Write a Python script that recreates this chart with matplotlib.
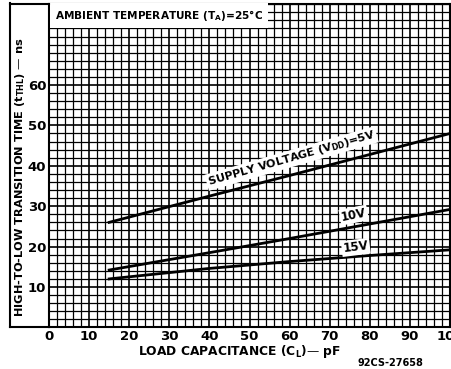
import numpy as np
import matplotlib.pyplot as plt
from matplotlib.lines import Line2D

# 数据：负载电容 (pF) 与下降时间 (ns)
load_cap = [15, 40, 60, 80, 100]
t_thl_5v = [26.0, 32.5, 37.6, 42.8, 48.0]
t_thl_10v = [14.2, 18.5, 22.0, 25.6, 29.2]
t_thl_15v = [12.0, 14.6, 16.3, 17.8, 19.2]

x_ticks = [0, 10, 20, 30, 40, 50, 60, 70, 80, 90, 100]
y_ticks = [10, 20, 30, 40, 50, 60]

plt.rcParams['font.family'] = ['DejaVu Sans']
plt.rcParams['font.weight'] = 'bold'
plt.rcParams['mathtext.default'] = 'bf'

fig = plt.figure(figsize=(4.51, 3.69), dpi=100)
ax = fig.add_axes([49 / 451, 1 - 327.4 / 369, 401 / 451, (327.4 - 4.2) / 369])

# 网格
ax.set_xlim(0, 100)
ax.set_ylim(0, 80)
ax.set_xticks(x_ticks)
ax.set_yticks(y_ticks)
ax.set_xticks(np.arange(0, 101, 2), minor=True)
ax.set_yticks(np.arange(0, 81, 2), minor=True)
ax.grid(True, which='major', color='black', lw=1.2)
ax.grid(True, which='minor', color='black', lw=0.9)
ax.tick_params(which='both', length=0, labelsize=9.5, pad=2)
for s in ax.spines.values():
    s.set_linewidth(1.5)

# 曲线
ax.plot(load_cap, t_thl_5v, color='black', lw=2.0, zorder=3)
ax.plot(load_cap, t_thl_10v, color='black', lw=2.0, zorder=3)
ax.plot(load_cap, t_thl_15v, color='black', lw=2.0, zorder=3)

box = dict(facecolor='white', edgecolor='none', pad=1.0)
ax.text(60.5, 41.8, 'SUPPLY VOLTAGE (V$_{DD}$)=5V', rotation=16,
        ha='center', va='center', fontsize=8, bbox=box, zorder=4)
ax.text(76, 27.8, '10V', rotation=11, ha='center', va='center',
        fontsize=8.5, bbox=box, zorder=4)
ax.text(76.5, 19.8, '15V', rotation=7, ha='center', va='center',
        fontsize=8.5, bbox=box, zorder=4)
ax.text(1.5, 79.0, 'AMBIENT TEMPERATURE (T$_{A}$)=25°C', ha='left', va='top',
        fontsize=7.6, zorder=4,
        bbox=dict(facecolor='white', edgecolor='none', pad=3.5))

# 外框
fig.add_artist(Line2D([10 / 451, 10 / 451], [1 - 327.4 / 369, 1 - 3 / 369],
                      color='black', lw=1.5, transform=fig.transFigure))
fig.add_artist(Line2D([10 / 451, 49 / 451], [1 - 327.4 / 369, 1 - 327.4 / 369],
                      color='black', lw=1.5, transform=fig.transFigure))
fig.add_artist(Line2D([10 / 451, 49 / 451], [1 - 3.6 / 369, 1 - 3.6 / 369],
                      color='black', lw=1.5, transform=fig.transFigure))

fig.text(20 / 451, 1 - 177 / 369, 'HIGH-TO-LOW TRANSITION TIME (t$_{THL}$) — ns',
         rotation=90, ha='center', va='center', fontsize=8.2)
fig.text(240 / 451, 1 - 351 / 369, 'LOAD CAPACITANCE (C$_{L}$)— pF',
         ha='center', va='center', fontsize=8.8)
fig.text(390 / 451, 1 - 363 / 369, '92CS-27658', ha='center', va='center', fontsize=7)

fig.savefig('out.png', dpi=100)
